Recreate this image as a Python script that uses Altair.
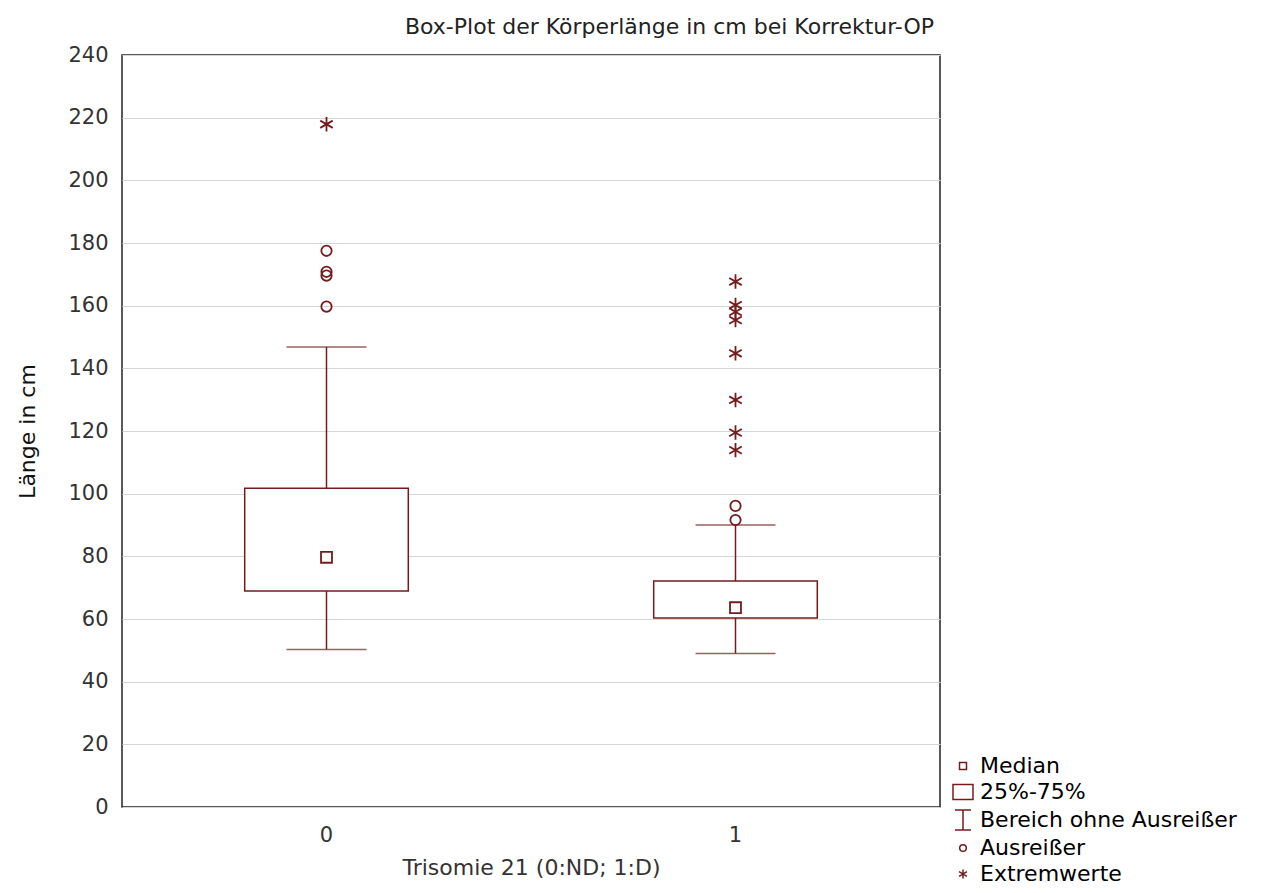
import altair as alt
import pandas as pd

# ---- data ----
groups = ["0", "1"]
q1 = [68.9, 60.3]
median = [79.7, 63.6]
q3 = [101.7, 72.1]
whisk_lo = [50.3, 49.0]
whisk_hi = [146.8, 90.0]

outliers_0 = [177.5, 170.8, 169.6, 159.7]
outliers_1 = [96.1, 91.6]
extremes_0 = [217.9]
extremes_1 = [167.7, 160.2, 158.0, 155.4, 144.8, 129.9, 119.5, 113.9]

legend_labels = ["Median", "25%-75%", "Bereich ohne Ausreißer", "Ausreißer", "Extremwerte"]
y_ticks = list(range(0, 241, 20))

# ---- tables ----
box_df = pd.DataFrame({"g": groups, "q1": q1, "med": median, "q3": q3,
                       "lo": whisk_lo, "hi": whisk_hi})

pts = []
for g, m in zip(groups, median):
    pts.append({"g": g, "v": m, "t": "Median"})
for g, vals in zip(groups, [outliers_0, outliers_1]):
    for v in vals:
        pts.append({"g": g, "v": v, "t": "Ausreißer"})
for g, vals in zip(groups, [extremes_0, extremes_1]):
    for v in vals:
        pts.append({"g": g, "v": v, "t": "Extremwerte"})
pts_df = pd.DataFrame(pts)

MAROON = "#741c1c"
FONT = "DejaVu Sans"

shape_paths = [
    "M-0.35,-0.35H0.35V0.35H-0.35Z",
    "M-1,-0.75H1V0.75H-1Z",
    "M-0.8,-1H0.8M0,-1V1M-0.8,1H0.8",
    "M0.33,0A0.33,0.33 0 1,1 -0.33,0A0.33,0.33 0 1,1 0.33,0Z",
    "M0,-0.46V0.46M-0.4,-0.23L0.4,0.23M-0.4,0.23L0.4,-0.23",
]

x_enc = alt.X("g:N", scale=alt.Scale(type="band", paddingInner=0, paddingOuter=0, domain=groups),
              axis=alt.Axis(title="Trisomie 21 (0:ND; 1:D)", labelAngle=0, ticks=False,
                            domain=False, grid=False, labelPadding=17, titlePadding=12,
                            labelFontSize=21, titleFontSize=22, labelFont=FONT, titleFont=FONT,
                            labelColor="#333333", titleColor="#333333", titleFontWeight="normal"))
y_scale = alt.Scale(domain=[0, 240], nice=False, zero=True)
y_axis = alt.Axis(title="Länge in cm", values=y_ticks, ticks=False, domain=False,
                  grid=True, gridColor="#d6d6d6", gridWidth=1,
                  labelPadding=14, titlePadding=28, labelFontSize=21, titleFontSize=22,
                  labelFont=FONT, titleFont=FONT, labelColor="#333333", titleColor="#111111",
                  titleFontWeight="normal")

base = alt.Chart(box_df)

boxes = base.mark_bar(width=alt.RelativeBandSize(0.4), fill="white", stroke=MAROON,
                      strokeWidth=1.5).encode(
    x=x_enc,
    y=alt.Y("q1:Q", scale=y_scale, axis=y_axis),
    y2="q3:Q",
)

whisk_low = base.mark_rule(color=MAROON, strokeWidth=1.5).encode(
    x="g:N", y="lo:Q", y2="q1:Q")
whisk_high = base.mark_rule(color=MAROON, strokeWidth=1.5).encode(
    x="g:N", y="q3:Q", y2="hi:Q")
cap_low = base.mark_tick(color=MAROON, size=80, thickness=1.5, orient="horizontal").encode(
    x="g:N", y="lo:Q")
cap_high = base.mark_tick(color=MAROON, size=80, thickness=1.5, orient="horizontal").encode(
    x="g:N", y="hi:Q")

points = alt.Chart(pts_df).mark_point(filled=False, color=MAROON, strokeWidth=1.8,
                                      size=980, opacity=1).encode(
    x="g:N",
    y="v:Q",
    shape=alt.Shape("t:N",
                    scale=alt.Scale(domain=legend_labels, range=shape_paths),
                    legend=alt.Legend(title=None, orient="none", legendX=830, legendY=700,
                                      symbolSize=400, symbolStrokeColor=MAROON,
                                      symbolFillColor="transparent", symbolStrokeWidth=1.5,
                                      labelFontSize=22, labelFont=FONT, labelColor="#000000",
                                      labelOffset=6, rowPadding=4, labelLimit=400)),
)

chart = alt.layer(boxes, whisk_low, whisk_high, cap_low, cap_high, points).properties(
    width=818,
    height=752,
    title=alt.TitleParams("Box-Plot der Körperlänge in cm bei Korrektur-OP", anchor="end",
                          frame="group", fontSize=22, font=FONT, fontWeight="normal",
                          color="#222222", offset=5, dx=-6),
    padding={"left": 8, "top": 8, "right": 5, "bottom": 5},
    background="white",
).configure_view(
    stroke="#222222", strokeWidth=1.5
)

chart.save("out.html", embed_options={"renderer": "svg", "actions": False})
